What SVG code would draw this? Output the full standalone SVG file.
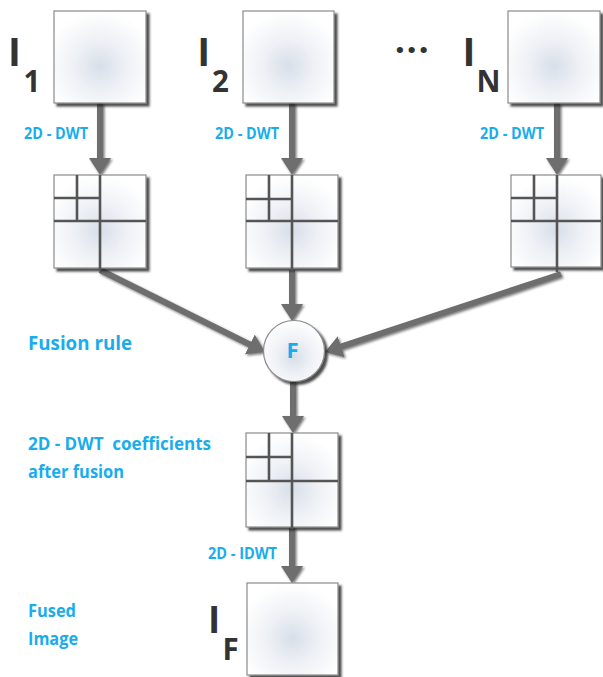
<svg xmlns="http://www.w3.org/2000/svg" width="603" height="677" viewBox="0 0 603 677">
<style>
.lbl{font-family:"Open Sans","Noto Sans",sans-serif;font-weight:bold;fill:#19adec;white-space:pre}
.big{font-family:"Open Sans","Noto Sans",sans-serif;font-weight:bold;fill:#333333;text-anchor:middle}
.box{fill:url(#bg);stroke:#8a8a8a;stroke-width:1.2;filter:url(#sh)}
.gl{stroke:#555555;stroke-width:2.6;fill:none}
.ar{stroke:#6e6e6e;stroke-width:6;fill:none;marker-end:url(#ah);filter:url(#ash)}
</style>
<defs>
<radialGradient id="bg" cx="0.5" cy="0.6" r="0.6">
<stop offset="0" stop-color="#d8dfe9"/>
<stop offset="0.45" stop-color="#edf0f5"/>
<stop offset="1" stop-color="#ffffff"/>
</radialGradient>
<filter id="sh" x="-10%" y="-10%" width="130%" height="130%">
<feDropShadow dx="3" dy="3" stdDeviation="1.1" flood-color="#222222" flood-opacity="0.8"/>
</filter>
<filter id="ash" filterUnits="userSpaceOnUse" x="0" y="0" width="603" height="677">
<feDropShadow dx="1.5" dy="1.5" stdDeviation="0.8" flood-color="#222222" flood-opacity="0.6"/>
</filter>
<marker id="ah" viewBox="0 0 17 22" refX="5" refY="11" markerWidth="17" markerHeight="22" markerUnits="userSpaceOnUse" orient="auto">
<path d="M0,0 L17,11 L0,22 z" fill="#6e6e6e"/>
</marker>
</defs>

<g id="connectors">
<path class="ar" d="M100,103 L100,163"/>
<path class="ar" d="M292,103 L292,163"/>
<path class="ar" d="M557,103 L557,163"/>
<path class="ar" d="M100,270 L254.3,346.7"/>
<path class="ar" d="M292,270 L292,309"/>
<path class="ar" d="M561,274 L336.4,348.2"/>
<path class="ar" d="M293,381 L293,421"/>
<path class="ar" d="M292,527 L292,571"/>
</g>

<g id="img1">
<rect class="box" x="54" y="11" width="92" height="92"/>
<text class="big" x="14.5" y="66" font-size="39">I</text>
<text class="big" x="32" y="92" font-size="29.5">1</text>
</g>
<g id="img2">
<rect class="box" x="243" y="11" width="91" height="92"/>
<text class="big" x="203.7" y="66" font-size="39">I</text>
<text class="big" x="220.5" y="92" font-size="29.5">2</text>
</g>
<g id="dots">
<text class="big" x="412.5" y="53" font-size="36" letter-spacing="1.6">...</text>
</g>
<g id="imgN">
<rect class="box" x="508" y="11" width="92" height="92"/>
<text class="big" x="469" y="66" font-size="39">I</text>
<text class="big" x="488.5" y="92" font-size="29.5">N</text>
</g>

<g id="lbl-dwt">
<text class="lbl" x="24" y="139" font-size="15.5" textLength="64" lengthAdjust="spacingAndGlyphs">2D - DWT</text>
<text class="lbl" x="215" y="139" font-size="15.5" textLength="64" lengthAdjust="spacingAndGlyphs">2D - DWT</text>
<text class="lbl" x="480" y="139" font-size="15.5" textLength="64" lengthAdjust="spacingAndGlyphs">2D - DWT</text>
</g>

<g id="grid1">
<rect class="box" x="54" y="175" width="92" height="93"/>
<path class="gl" d="M100,175 V271 M54,221 H146 M77,175 V221 M54,198 H100"/>
</g>
<g id="grid2">
<rect class="box" x="246" y="175" width="92" height="93"/>
<path class="gl" d="M292,175 V271 M246,221 H338 M269,175 V221 M246,199 H292"/>
</g>
<g id="gridN">
<rect class="box" x="511" y="175" width="90" height="92"/>
<path class="gl" d="M557,175 V272 M511,221 H601 M534,175 V221 M511,198 H557"/>
</g>

<g id="fusion">
<circle cx="294" cy="351" r="30.5" fill="url(#bg)" stroke="#8a8a8a" stroke-width="1.2" filter="url(#sh)"/>
<text class="lbl" x="292.5" y="358" font-size="22" text-anchor="middle">F</text>
</g>
<g id="lbl-fusion">
<text class="lbl" x="28" y="350" font-size="20" textLength="104" lengthAdjust="spacingAndGlyphs">Fusion rule</text>
</g>

<g id="gridF">
<rect class="box" x="246" y="433" width="92" height="94"/>
<path class="gl" d="M292,433 V529 M246,481 H338 M269,433 V481 M246,457 H292"/>
</g>
<g id="lbl-coef">
<text class="lbl" x="28" y="450" font-size="17" textLength="183" lengthAdjust="spacingAndGlyphs">2D - DWT  coefficients</text>
<text class="lbl" x="28" y="478" font-size="17" textLength="96" lengthAdjust="spacingAndGlyphs">after fusion</text>
</g>
<g id="lbl-idwt">
<text class="lbl" x="208" y="559" font-size="15.5" textLength="69" lengthAdjust="spacingAndGlyphs">2D - IDWT</text>
</g>

<g id="imgF">
<rect class="box" x="247" y="583" width="91" height="92"/>
<text class="big" x="214" y="633" font-size="37">I</text>
<text class="big" x="230.7" y="660" font-size="29.5">F</text>
</g>
<g id="lbl-fused">
<text class="lbl" x="28" y="617" font-size="17" textLength="48" lengthAdjust="spacingAndGlyphs">Fused</text>
<text class="lbl" x="28" y="645" font-size="17" textLength="50" lengthAdjust="spacingAndGlyphs">Image</text>
</g>
</svg>
